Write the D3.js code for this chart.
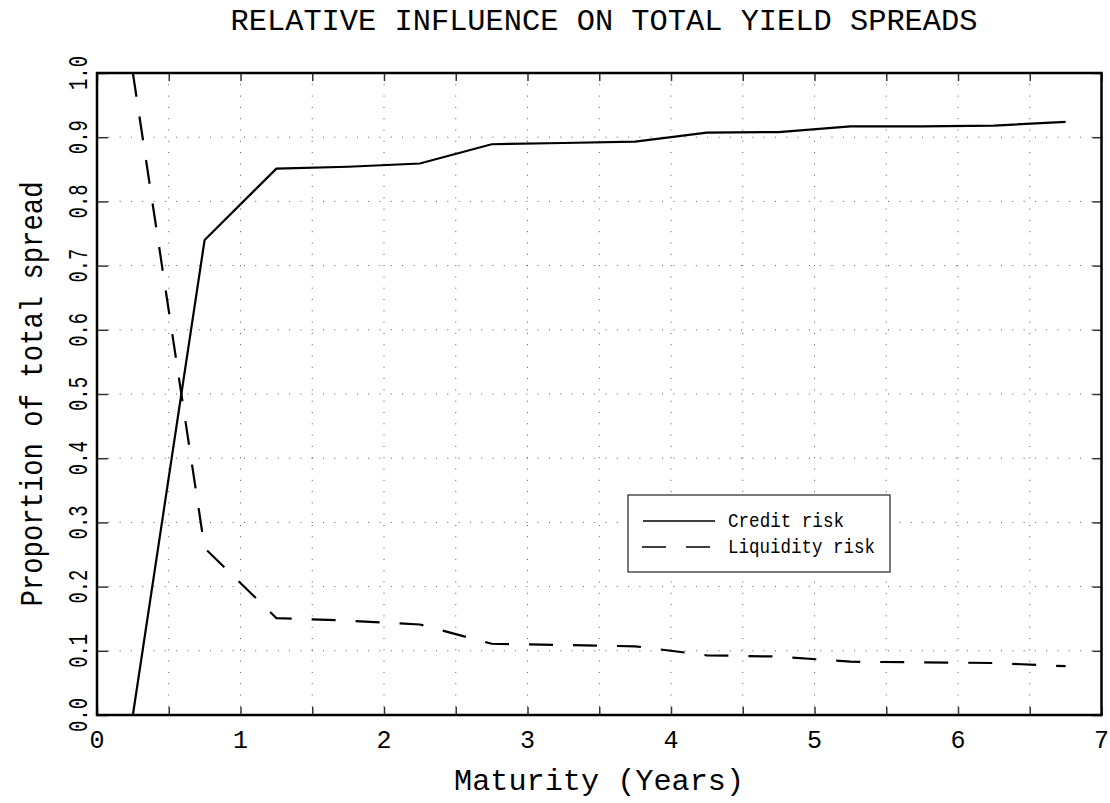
<!DOCTYPE html>
<html>
<head>
<style>
  body { margin: 0; background: #fff; }
  text { font-family: "Liberation Mono", "DejaVu Sans Mono", monospace; fill: #000; }
  .thin { stroke: #fff; stroke-width: 0.6px; paint-order: stroke; }
</style>
</head>
<body>
<svg></svg>
<script src="https://d3js.org/d3.v7.min.js"></script>
<script>
const maturity = [0.25, 0.75, 1.25, 1.75, 2.25, 2.75, 3.25, 3.75, 4.25, 4.75, 5.25, 5.75, 6.25, 6.75];
const credit = [0.0, 0.74, 0.851, 0.854, 0.859, 0.889, 0.891, 0.893, 0.907, 0.908, 0.917, 0.917, 0.918, 0.924];
const liquidity = [1.0, 0.26, 0.151, 0.147, 0.141, 0.111, 0.109, 0.107, 0.093, 0.091, 0.083, 0.082, 0.081, 0.076];

const xTicks = [0, 1, 2, 3, 4, 5, 6, 7];
const yTicks = [0, 0.1, 0.2, 0.3, 0.4, 0.5, 0.6, 0.7, 0.8, 0.9, 1.0];
const xMinor = d3.range(0, 7.01, 0.5);

const width = 1110, height = 803;

const x = d3.scaleLinear().domain([0, 7]).range([97, 1101.5]);
const y = d3.scaleLinear().domain([0, 1]).range([715, 73]);

const svg = d3.select("svg")
    .attr("width", width)
    .attr("height", height);

// dotted grid
svg.append("g")
    .selectAll("line")
    .data(xMinor.slice(1, -1))
    .enter()
    .append("line")
    .attr("x1", d => x(d)).attr("x2", d => x(d))
    .attr("y1", y(1)).attr("y2", y(0))
    .attr("stroke", "#555")
    .attr("stroke-dasharray", "1,10.3");

svg.append("g")
    .selectAll("line")
    .data(yTicks.slice(1, -1))
    .enter()
    .append("line")
    .attr("x1", x(0)).attr("x2", x(7))
    .attr("y1", d => y(d)).attr("y2", d => y(d))
    .attr("stroke", "#555")
    .attr("stroke-dasharray", "1,10.3");

// tick marks on all four sides, pointing in
const tickStyle = g => {
    g.select(".domain").remove();
    g.selectAll(".tick line").attr("stroke", "#333").attr("stroke-width", 1.5);
    g.selectAll(".tick text").remove();
};
svg.append("g").attr("transform", "translate(0," + y(0) + ")")
    .call(d3.axisBottom(x).tickValues(xMinor).tickSize(-8)).call(tickStyle);
svg.append("g").attr("transform", "translate(0," + y(1) + ")")
    .call(d3.axisTop(x).tickValues(xMinor).tickSize(-8)).call(tickStyle);
svg.append("g").attr("transform", "translate(" + x(0) + ",0)")
    .call(d3.axisLeft(y).tickValues(yTicks).tickSize(-11)).call(tickStyle);
svg.append("g").attr("transform", "translate(" + x(7) + ",0)")
    .call(d3.axisRight(y).tickValues(yTicks).tickSize(-9)).call(tickStyle);

// frame
svg.append("rect")
    .attr("x", x(0)).attr("y", y(1))
    .attr("width", x(7) - x(0)).attr("height", y(0) - y(1))
    .attr("fill", "none")
    .attr("stroke", "#000")
    .attr("stroke-width", 2.5);

// tick labels
svg.append("g")
    .selectAll("text")
    .data(xTicks)
    .enter()
    .append("text")
    .attr("class", "thin")
    .attr("x", d => x(d))
    .attr("y", 748)
    .attr("text-anchor", "middle")
    .attr("font-size", 25)
    .text(d => d);

// y labels: condensed monospace, rotated
svg.append("g")
    .selectAll("text")
    .data(yTicks)
    .enter()
    .append("text")
    .attr("class", "thin")
    .attr("transform", d => "translate(87," + y(d) + ") rotate(-90) scale(0.7,1)")
    .attr("text-anchor", "middle")
    .attr("font-size", 27)
    .text(d => d.toFixed(1));

// lines
const pts = vals => maturity.map((m, i) => [m, vals[i]]);
const line = d3.line().x(d => x(d[0])).y(d => y(d[1]));

svg.append("path")
    .attr("d", line(pts(credit)))
    .attr("fill", "none")
    .attr("stroke", "#000")
    .attr("stroke-width", 2.2);

svg.append("path")
    .attr("d", line(pts(liquidity)))
    .attr("fill", "none")
    .attr("stroke", "#000")
    .attr("stroke-width", 2.2)
    .attr("stroke-dasharray", "24,20");

// legend
const leg = svg.append("g");
leg.append("rect")
    .attr("x", 628).attr("y", 495)
    .attr("width", 262).attr("height", 77)
    .attr("fill", "#fff")
    .attr("stroke", "#222")
    .attr("stroke-width", 1.2);
leg.append("line")
    .attr("x1", 643).attr("x2", 715).attr("y1", 521).attr("y2", 521)
    .attr("stroke", "#000").attr("stroke-width", 1.5);
leg.append("line")
    .attr("x1", 642).attr("x2", 710).attr("y1", 547).attr("y2", 547)
    .attr("stroke", "#000").attr("stroke-width", 1.5)
    .attr("stroke-dasharray", "24,20");
leg.append("text")
    .attr("class", "thin")
    .attr("x", 728).attr("y", 527)
    .attr("font-size", 21)
    .attr("textLength", 116)
    .attr("lengthAdjust", "spacingAndGlyphs")
    .text("Credit risk");
leg.append("text")
    .attr("class", "thin")
    .attr("x", 728).attr("y", 553)
    .attr("font-size", 21)
    .attr("textLength", 147)
    .attr("lengthAdjust", "spacingAndGlyphs")
    .text("Liquidity risk");

// titles
svg.append("text")
    .attr("class", "thin")
    .attr("x", 604).attr("y", 30)
    .attr("text-anchor", "middle")
    .attr("font-size", 29)
    .attr("textLength", 747)
    .attr("lengthAdjust", "spacingAndGlyphs")
    .text("RELATIVE INFLUENCE ON TOTAL YIELD SPREADS");

svg.append("text")
    .attr("class", "thin")
    .attr("x", 599).attr("y", 790)
    .attr("text-anchor", "middle")
    .attr("font-size", 30)
    .attr("textLength", 290)
    .attr("lengthAdjust", "spacingAndGlyphs")
    .text("Maturity (Years)");

svg.append("text")
    .attr("class", "thin")
    .attr("transform", "translate(42," + ((y(0) + y(1)) / 2) + ") rotate(-90)")
    .attr("text-anchor", "middle")
    .attr("font-size", 32)
    .attr("textLength", 425)
    .attr("lengthAdjust", "spacingAndGlyphs")
    .text("Proportion of total spread");
</script>
</body>
</html>
